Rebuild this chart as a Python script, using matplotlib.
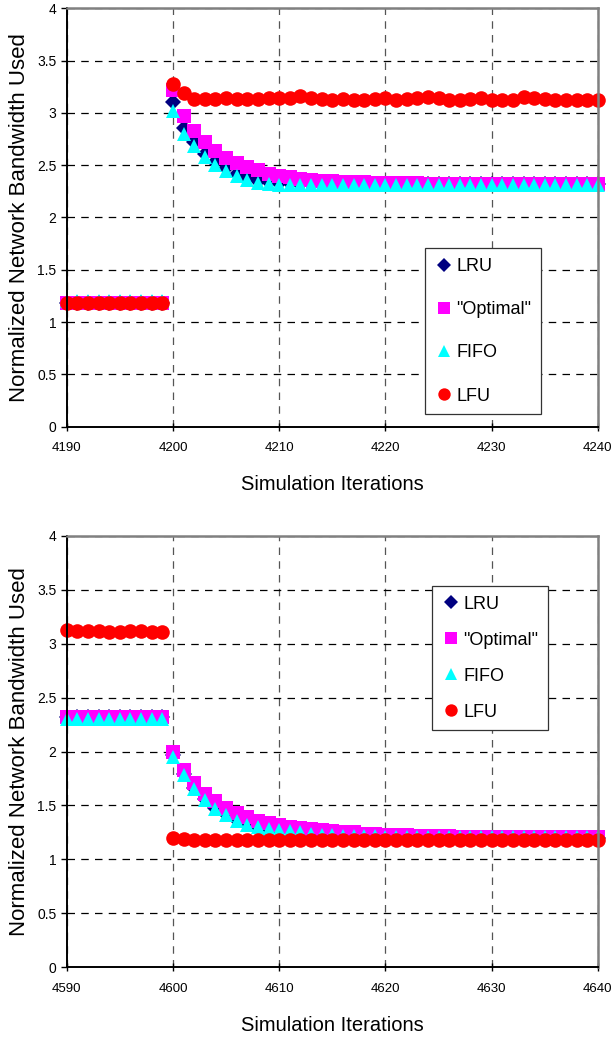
import numpy as np
import matplotlib.pyplot as plt

plt.rcParams['font.family'] = ['Liberation Sans', 'DejaVu Sans']

# ---- top chart: iterations 4190..4240
iter_top = np.arange(4190, 4241)
lru_top = [1.18] * 10 + [3.10, 2.86, 2.72, 2.61, 2.53, 2.47, 2.42, 2.38, 2.35, 2.34,
                         2.33, 2.33, 2.32, 2.32, 2.32, 2.32, 2.32, 2.32, 2.32, 2.32,
                         2.32, 2.32, 2.32, 2.32, 2.32, 2.32, 2.32, 2.32, 2.32, 2.32,
                         2.32, 2.32, 2.32, 2.32, 2.32, 2.32, 2.32, 2.32, 2.32, 2.32, 2.32]
opt_top = [1.18] * 10 + [3.22, 2.97, 2.83, 2.72, 2.64, 2.57, 2.52, 2.48, 2.45, 2.42,
                         2.40, 2.39, 2.37, 2.36, 2.35, 2.35, 2.34, 2.34, 2.34, 2.33,
                         2.33, 2.33, 2.33, 2.33, 2.32, 2.32, 2.32, 2.32, 2.32, 2.32,
                         2.32, 2.32, 2.32, 2.32, 2.32, 2.32, 2.32, 2.32, 2.32, 2.32, 2.32]
fifo_top = [1.20] * 10 + [3.02, 2.80, 2.68, 2.58, 2.50, 2.44, 2.40, 2.36, 2.33, 2.32,
                          2.31, 2.31, 2.31, 2.31, 2.31, 2.31, 2.31, 2.31, 2.31, 2.31,
                          2.31, 2.31, 2.31, 2.31, 2.31, 2.31, 2.31, 2.31, 2.31, 2.31,
                          2.31, 2.31, 2.31, 2.31, 2.31, 2.31, 2.31, 2.31, 2.31, 2.31, 2.31]
lfu_top = [1.18] * 10 + [3.28, 3.19, 3.13, 3.13, 3.13, 3.14, 3.13, 3.13, 3.13, 3.14,
                         3.14, 3.14, 3.16, 3.14, 3.13, 3.12, 3.13, 3.12, 3.12, 3.13,
                         3.14, 3.12, 3.13, 3.14, 3.15, 3.14, 3.12, 3.12, 3.13, 3.14,
                         3.12, 3.12, 3.12, 3.15, 3.14, 3.13, 3.12, 3.12, 3.12, 3.12, 3.12]

# ---- bottom chart: iterations 4590..4640
iter_bot = np.arange(4590, 4641)
lru_bot = [2.32] * 10 + [1.97, 1.79, 1.66, 1.56, 1.48, 1.42, 1.37, 1.33, 1.30, 1.28,
                         1.27, 1.26, 1.25, 1.24, 1.23, 1.23, 1.22, 1.22, 1.22, 1.21,
                         1.21, 1.21, 1.21, 1.21, 1.21, 1.20, 1.20, 1.20, 1.20, 1.20,
                         1.20, 1.20, 1.20, 1.20, 1.20, 1.20, 1.20, 1.20, 1.20, 1.20, 1.20]
opt_bot = [2.32] * 10 + [2.00, 1.83, 1.71, 1.61, 1.54, 1.48, 1.43, 1.39, 1.36, 1.34,
                         1.32, 1.30, 1.29, 1.28, 1.27, 1.26, 1.25, 1.25, 1.24, 1.24,
                         1.23, 1.23, 1.23, 1.22, 1.22, 1.22, 1.22, 1.21, 1.21, 1.21,
                         1.21, 1.21, 1.21, 1.21, 1.21, 1.21, 1.21, 1.21, 1.21, 1.21, 1.21]
fifo_bot = [2.30] * 10 + [1.95, 1.78, 1.65, 1.55, 1.47, 1.41, 1.36, 1.32, 1.30, 1.28,
                          1.27, 1.26, 1.25, 1.24, 1.23, 1.23, 1.22, 1.22, 1.22, 1.22,
                          1.21, 1.21, 1.21, 1.21, 1.21, 1.21, 1.21, 1.21, 1.21, 1.21,
                          1.21, 1.21, 1.21, 1.21, 1.21, 1.21, 1.21, 1.21, 1.21, 1.21, 1.21]
lfu_bot = [3.13, 3.12, 3.12, 3.12, 3.11, 3.11, 3.12, 3.12, 3.11, 3.11,
           1.20, 1.19, 1.18, 1.18, 1.18, 1.18, 1.18, 1.18, 1.18, 1.18,
           1.18, 1.18, 1.18, 1.18, 1.18, 1.18, 1.18, 1.18, 1.18, 1.18,
           1.18, 1.18, 1.18, 1.18, 1.18, 1.18, 1.18, 1.18, 1.18, 1.18,
           1.18, 1.18, 1.18, 1.18, 1.18, 1.18, 1.18, 1.18, 1.18, 1.18, 1.18]

labels = ['LRU', '"Optimal"', 'FIFO', 'LFU']
styles = [('D', '#000080', 8), ('s', '#ff00ff', 10), ('^', '#00ffff', 10), ('o', '#ff0000', 10.5)]

fig = plt.figure(figsize=(6.12, 10.38), dpi=100)
ax1 = fig.add_axes([0.109, 0.589, 0.868, 0.403])
ax2 = fig.add_axes([0.109, 0.068, 0.868, 0.416])


def draw(ax, x, series, xlim, legend_loc, legend_anchor, lspace):
    for y, lab, (m, c, ms) in zip(series, labels, styles):
        ax.plot(x, y, linestyle='none', marker=m, color=c, markersize=ms,
                markeredgewidth=0, label=lab, clip_on=False)
    ax.set_xlim(*xlim)
    ax.set_ylim(0, 4)
    ax.set_xticks(np.arange(xlim[0], xlim[1] + 1, 10))
    ax.set_yticks(np.arange(0, 4.01, 0.5))
    ax.set_yticklabels(['0', '0.5', '1', '1.5', '2', '2.5', '3', '3.5', '4'])
    ax.grid(True, color='black', linestyle=(0, (6, 5)), linewidth=0.9)
    ax.xaxis.grid(True, color='#555555')
    ax.set_axisbelow(True)
    ax.tick_params(axis='both', labelsize=10, length=4, width=1, color='black')
    ax.tick_params(axis='x', direction='inout', pad=8, length=6, labelsize=9.5)
    for side in ['left', 'bottom']:
        ax.spines[side].set_color('black')
        ax.spines[side].set_linewidth(1.4)
    for side in ['top', 'right']:
        ax.spines[side].set_color('#808080')
        ax.spines[side].set_linewidth(1.8)
    ax.set_xlabel('Simulation Iterations', fontsize=14.5, labelpad=15)
    ax.set_ylabel('Normalized Network Bandwidth Used', fontsize=16, labelpad=5)
    leg = ax.legend(loc=legend_loc, bbox_to_anchor=legend_anchor, fontsize=13,
                    frameon=True, fancybox=False, framealpha=1, edgecolor='#333333',
                    handletextpad=0.15, handlelength=1.0, labelspacing=lspace,
                    borderpad=0.55, borderaxespad=0, markerscale=0.85)
    leg.get_frame().set_linewidth(0.9)


draw(ax1, iter_top, [lru_top, opt_top, fifo_top, lfu_top], (4190, 4240),
     'lower right', (0.893, 0.029), 1.45)
draw(ax2, iter_bot, [lru_bot, opt_bot, fifo_bot, lfu_bot], (4590, 4640),
     'upper right', (0.906, 0.884), 1.05)

fig.savefig('out.png', dpi=100)
